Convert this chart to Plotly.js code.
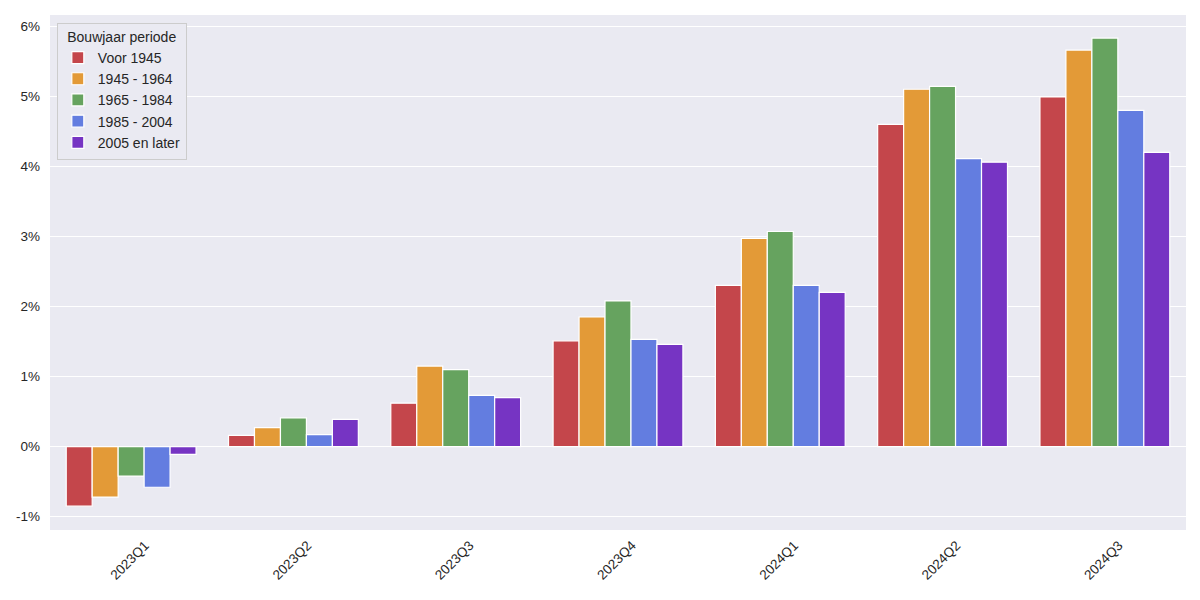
<!DOCTYPE html>
<html>
<head>
<meta charset="utf-8">
<script src="https://cdn.plot.ly/plotly-3.0.1.min.js"></script>
<style>
  html, body { margin: 0; padding: 0; background: #ffffff; }
  #chart { width: 1200px; height: 600px; }
</style>
</head>
<body>
<div id="chart"></div>
<script>
// Kwartalen en bouwjaarperiodes
const quarters = ['2023Q1', '2023Q2', '2023Q3', '2023Q4', '2024Q1', '2024Q2', '2024Q3'];
const periods = ['Voor 1945', '1945 - 1964', '1965 - 1984', '1985 - 2004', '2005 en later'];

// Prijsverandering in procenten, per bouwjaarperiode
const voor1945 = [-0.85, 0.16, 0.62, 1.51, 2.30, 4.60, 4.99];
const p1945_1964 = [-0.72, 0.27, 1.15, 1.85, 2.97, 5.10, 5.66];
const p1965_1984 = [-0.42, 0.41, 1.10, 2.08, 3.07, 5.14, 5.83];
const p1985_2004 = [-0.58, 0.17, 0.73, 1.53, 2.30, 4.11, 4.80];
const p2005later = [-0.11, 0.39, 0.70, 1.46, 2.20, 4.06, 4.20];

const yTicks = [-1, 0, 1, 2, 3, 4, 5, 6];

const seriesValues = [voor1945, p1945_1964, p1965_1984, p1985_2004, p2005later];
const colors = ['#c4464b', '#e39a37', '#66a35f', '#637de0', '#7634c3'];

const data = seriesValues.map((vals, i) => ({
    type: 'bar',
    name: periods[i],
    x: quarters,
    y: vals,
    marker: { color: colors[i], line: { color: '#ffffff', width: 1.2 } },
    hoverinfo: 'none'
}));

const layout = {
    width: 1200,
    height: 600,
    margin: { l: 50, r: 14, t: 15, b: 70 },
    paper_bgcolor: '#ffffff',
    plot_bgcolor: '#eaeaf2',
    font: { family: 'Liberation Sans, Arial, sans-serif', size: 13.5, color: '#262626' },
    barmode: 'group',
    bargap: 0.2,
    bargroupgap: 0,
    xaxis: {
        range: [-0.5, 6.5],
        tickangle: -45,
        showgrid: false,
        zeroline: false,
        showline: false,
        ticks: '',
        ticklabelstandoff: 4,
        ticklabelshift: 14,
        tickfont: { size: 13.5, color: '#262626' }
    },
    yaxis: {
        range: [-1.19, 6.16],
        tickvals: yTicks,
        ticktext: yTicks.map(v => v + '%'),
        showgrid: true,
        gridcolor: '#ffffff',
        gridwidth: 1,
        zeroline: true,
        zerolinecolor: '#ffffff',
        zerolinewidth: 1,
        showline: false,
        ticks: '',
        ticklabelstandoff: 9,
        tickfont: { size: 13.5, color: '#262626' }
    },
    showlegend: true,
    legend: {
        x: 0.006, y: 0.985, xanchor: 'left', yanchor: 'top',
        bgcolor: '#eaeaf2',
        bordercolor: '#cccccc',
        borderwidth: 1,
        font: { size: 14, color: '#262626' },
        title: { text: 'Bouwjaar periode', font: { size: 14, color: '#262626' }, side: 'top center' },
        tracegroupgap: 0
    }
};

Plotly.newPlot('chart', data, layout, { staticPlot: true, displayModeBar: false });
</script>
</body>
</html>
